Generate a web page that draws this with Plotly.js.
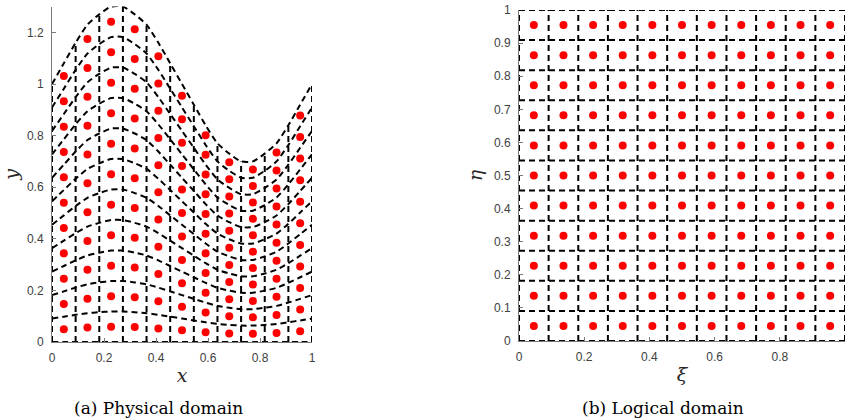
<!DOCTYPE html>
<html>
<head>
<meta charset="utf-8">
<script src="https://cdn.plot.ly/plotly-3.0.1.min.js"></script>
<style>html,body{margin:0;padding:0;background:#fff;}#chart{width:847px;height:419px;}</style>
</head>
<body>
<div id="chart"></div>
<script>
// Logical grid line levels (cell edges) and cell centres
const gridLevels = [0, 0.0909, 0.1818, 0.2727, 0.3636, 0.4545, 0.5455, 0.6364, 0.7273, 0.8182, 0.9091, 1];
const xiCenters  = [0.0455, 0.1364, 0.2273, 0.3182, 0.4091, 0.5, 0.5909, 0.6818, 0.7727, 0.8636, 0.9545];
const etaCenters = [0.0455, 0.1364, 0.2273, 0.3182, 0.4091, 0.5, 0.5909, 0.6818, 0.7727, 0.8636, 0.9545];
// Top boundary of the physical domain, read at the grid edges and centres
const boundaryX   = [0, 0.0455, 0.0909, 0.1364, 0.1818, 0.2273, 0.2727, 0.3182, 0.3636, 0.4091, 0.4545, 0.5,
                     0.5455, 0.5909, 0.6364, 0.6818, 0.7273, 0.7727, 0.8182, 0.8636, 0.9091, 0.9545, 1];
const boundaryTop = [1.00, 1.08, 1.16, 1.23, 1.27, 1.30, 1.30, 1.27, 1.23, 1.16, 1.08, 1.00,
                     0.92, 0.84, 0.77, 0.73, 0.70, 0.70, 0.73, 0.77, 0.84, 0.92, 1.00];
const xTicksPhys = [0, 0.2, 0.4, 0.6, 0.8, 1];
const yTicksPhys = [0, 0.2, 0.4, 0.6, 0.8, 1, 1.2];
const xTicksLog  = [0, 0.2, 0.4, 0.6, 0.8, 1];
const yTicksLog  = [0, 0.1, 0.2, 0.3, 0.4, 0.5, 0.6, 0.7, 0.8, 0.9, 1];
const captions = ['(a) Physical domain', '(b) Logical domain'];

const dashLine = {color: '#000', width: 2, dash: '6px,4px'};
const dotMarker = {color: '#ff0000', size: 8};
const traces = [];

function topAt(x) {
  const k = boundaryX.findIndex(v => Math.abs(v - x) < 1e-3);
  return boundaryTop[k];
}

// Physical domain: curved eta-lines
gridLevels.forEach(lv => {
  traces.push({x: boundaryX, y: boundaryTop.map(t => t * lv), mode: 'lines',
    line: Object.assign({shape: 'spline', smoothing: 0.6}, dashLine), xaxis: 'x', yaxis: 'y',
    hoverinfo: 'skip', showlegend: false, cliponaxis: false});
});
// Physical domain: vertical xi-lines
gridLevels.forEach(lv => {
  traces.push({x: [lv, lv], y: [0, topAt(lv)], mode: 'lines', line: dashLine,
    xaxis: 'x', yaxis: 'y', hoverinfo: 'skip', showlegend: false, cliponaxis: false});
});
// Physical domain: mapped cell centres
{
  const px = [], py = [];
  xiCenters.forEach(xc => { const t = topAt(xc); etaCenters.forEach(e => { px.push(xc); py.push(e * t); }); });
  traces.push({x: px, y: py, mode: 'markers', marker: dotMarker, xaxis: 'x', yaxis: 'y',
    showlegend: false, cliponaxis: false});
}
// Logical domain grid
gridLevels.forEach(lv => {
  traces.push({x: [0, 1], y: [lv, lv], mode: 'lines', line: dashLine, xaxis: 'x2', yaxis: 'y2',
    hoverinfo: 'skip', showlegend: false, cliponaxis: false});
  traces.push({x: [lv, lv], y: [0, 1], mode: 'lines', line: dashLine, xaxis: 'x2', yaxis: 'y2',
    hoverinfo: 'skip', showlegend: false, cliponaxis: false});
});
{
  const px = [], py = [];
  xiCenters.forEach(xc => { etaCenters.forEach(e => { px.push(xc); py.push(e); }); });
  traces.push({x: px, y: py, mode: 'markers', marker: dotMarker, xaxis: 'x2', yaxis: 'y2',
    showlegend: false, cliponaxis: false});
}

const W = 847, H = 419;
const tickFont = {family: 'Liberation Sans, Arial, sans-serif', size: 12, color: '#404040'};
const titleFont = {family: 'DejaVu Serif, serif', size: 19, color: '#262626', style: 'italic'};
function ax(extra) {
  return Object.assign({showgrid: false, zeroline: false, showline: true, linecolor: '#7a7a7a', linewidth: 1,
    ticks: 'inside', ticklen: 4, tickcolor: '#7a7a7a', tickfont: tickFont, mirror: false}, extra);
}

const layout = {
  width: W, height: H, margin: {l: 0, r: 0, t: 0, b: 0}, paper_bgcolor: '#fff', plot_bgcolor: 'rgba(0,0,0,0)',
  showlegend: false,
  xaxis: ax({domain: [52 / W, 312 / W], range: [0, 1], tickvals: xTicksPhys, ticklabelstandoff: 5,
    title: {text: 'x', font: titleFont, standoff: 4}, anchor: 'y'}),
  yaxis: ax({domain: [(H - 342) / H, (H - 6.6) / H], range: [0, 1.3], tickvals: yTicksPhys, ticklabelstandoff: 5,
    title: {text: 'y', font: titleFont, standoff: 6}, anchor: 'x'}),
  xaxis2: ax({domain: [519 / W, 845 / W], range: [0, 1], tickvals: xTicksLog, ticklabelstandoff: 5,
    title: {text: 'ξ', font: titleFont, standoff: 4}, anchor: 'y2'}),
  yaxis2: ax({domain: [(H - 341) / H, (H - 10) / H], range: [0, 1], tickvals: yTicksLog, ticklabelstandoff: 5,
    title: {text: 'η', font: titleFont, standoff: 6}, anchor: 'x2'}),
  annotations: [
    {text: captions[0], x: 158 / W, y: (H - 408) / H, xref: 'paper', yref: 'paper', showarrow: false,
      xanchor: 'center', yanchor: 'middle', font: {family: 'DejaVu Serif, serif', size: 17, color: '#000'}},
    {text: captions[1], x: 663 / W, y: (H - 408) / H, xref: 'paper', yref: 'paper', showarrow: false,
      xanchor: 'center', yanchor: 'middle', font: {family: 'DejaVu Serif, serif', size: 17, color: '#000'}}
  ]
};

Plotly.newPlot('chart', traces, layout, {staticPlot: true, displayModeBar: false});
</script>
</body>
</html>
